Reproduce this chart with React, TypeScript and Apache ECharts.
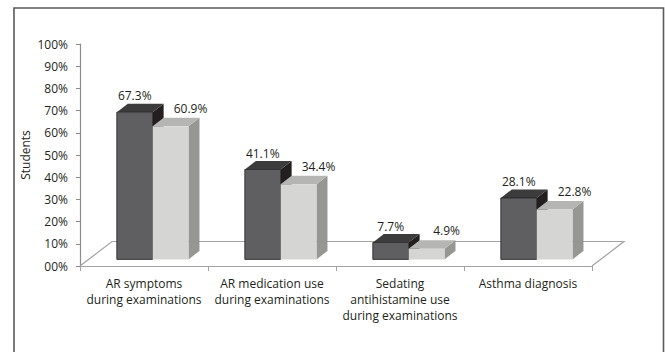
import React, { useEffect, useRef } from "react";
import * as echarts from "echarts";

const categories = [
  "AR symptoms\nduring examinations",
  "AR medication use\nduring examinations",
  "Sedating\nantihistamine use\nduring examinations",
  "Asthma diagnosis",
];
const darkValues = [67.3, 41.1, 7.7, 28.1];
const lightValues = [60.9, 34.4, 4.9, 22.8];
const yMin = 0;
const yMax = 100;
const yStep = 10;

const FONT = '"Open Sans", "Noto Sans", sans-serif';
const TEXT = "#231f20";

// 3D projection style
const FLOOR_DX = 32;
const FLOOR_DY = 24.5;
const D_FRONT = 0.27;
const BAR_DX = 11;
const BAR_DY = 8.5;
const BAR_FRAC = 0.28;
const PERSP = 0.985;

const DARK = { front: "#5f5f61", top: "#3c3c3d", side: "#231f20" };
const LIGHT = { front: "#d5d6d4", top: "#b5b6b4", side: "#969795" };

function barShapes(x: number, w: number, yb: number, yt: number, col: any, edge: boolean) {
  const els: any[] = [];
  els.push({
    type: "polygon",
    shape: { points: [[x + w, yb], [x + w + BAR_DX, yb - BAR_DY], [x + w + BAR_DX, yt - BAR_DY], [x + w, yt]] },
    style: { fill: col.side },
  });
  els.push({
    type: "polygon",
    shape: { points: [[x, yt], [x + BAR_DX, yt - BAR_DY], [x + w + BAR_DX, yt - BAR_DY], [x + w, yt]] },
    style: { fill: col.top },
  });
  els.push({
    type: "rect",
    shape: { x, y: yt, width: w, height: yb - yt },
    style: edge ? { fill: col.front, stroke: "#231f20", lineWidth: 0.8 } : { fill: col.front },
  });
  return els;
}

export default function App() {
  const ref = useRef<HTMLDivElement>(null);
  useEffect(() => {
    if (!ref.current) return;
    const chart = echarts.init(ref.current, null, { renderer: "svg" });
    const barData = categories.map((_, i) => [i, darkValues[i], lightValues[i]]);
    const option: any = {
      animation: false,
      backgroundColor: "#ffffff",
      graphic: [
        {
          type: "rect",
          shape: { x: 14, y: 8, width: 649.5, height: 400 },
          style: { fill: "none", stroke: "#5a5a5a", lineWidth: 1.6 },
          z: 0,
        },
      ],
      grid: { left: 80, right: 73, top: 44, bottom: 86 },
      xAxis: {
        type: "category",
        data: categories,
        axisLine: { show: true, lineStyle: { color: "#a3a3a3", width: 1.2 } },
        axisTick: { show: true, length: 5, lineStyle: { color: "#a3a3a3" } },
        axisLabel: {
          color: TEXT,
          fontFamily: FONT,
          fontSize: 12,
          lineHeight: 16,
          margin: 9,
          interval: 0,
        },
      },
      yAxis: {
        type: "value",
        min: yMin,
        max: yMax,
        interval: yStep,
        name: "Students",
        nameLocation: "middle",
        nameRotate: 90,
        nameGap: 49,
        nameMoveOverlap: false,
        nameTextStyle: { color: TEXT, fontFamily: FONT, fontSize: 12 },
        axisLine: { show: true, lineStyle: { color: "#8c8c8c", width: 1.2 } },
        axisTick: { show: true, length: 4, lineStyle: { color: "#8c8c8c" } },
        splitLine: { show: false },
        axisLabel: {
          color: TEXT,
          fontFamily: FONT,
          fontSize: 12,
          margin: 12,
          formatter: (v: number) => (v === 0 ? "00%" : v + "%"),
        },
      },
      series: [
        {
          type: "custom",
          z: 1,
          data: [[0, 0]],
          silent: true,
          renderItem: (params: any, api: any) => {
            const band = api.size([1, 0])[0];
            const p0 = api.coord([0, 0]);
            const p1 = api.coord([categories.length - 1, 0]);
            const x0 = p0[0] - band / 2;
            const x1 = p1[0] + band / 2;
            const y = p0[1];
            return {
              type: "polyline",
              shape: {
                points: [
                  [x0, y],
                  [x0 + FLOOR_DX, y - FLOOR_DY],
                  [x1 + FLOOR_DX, y - FLOOR_DY],
                  [x1, y],
                ],
              },
              style: { fill: "none", stroke: "#a3a3a3", lineWidth: 1.2 },
            };
          },
        },
        {
          type: "custom",
          z: 2,
          data: barData,
          encode: { x: 0, y: [1, 2] },
          renderItem: (params: any, api: any) => {
            const i = api.value(0);
            const a = api.value(1);
            const b = api.value(2);
            const band = api.size([1, 0])[0];
            const p0 = api.coord([i, 0]);
            const pa = api.coord([i, a]);
            const pb = api.coord([i, b]);
            const w = band * BAR_FRAC;
            const sx = D_FRONT * FLOOR_DX;
            const sy = D_FRONT * FLOOR_DY;
            const yb = p0[1] - sy;
            const ya = yb - (p0[1] - pa[1]) * PERSP;
            const ybb = yb - (p0[1] - pb[1]) * PERSP;
            const xd = p0[0] + sx - w;
            const xl = p0[0] + sx;
            const children: any[] = [];
            children.push(...barShapes(xd, w, yb, ya, DARK, true));
            children.push(...barShapes(xl, w, yb, ybb, LIGHT, false));
            children.push({
              type: "text",
              style: {
                text: a.toFixed(1) + "%",
                x: xd + w / 2,
                y: ya - 16.5,
                align: "center",
                verticalAlign: "middle",
                fill: TEXT,
                font: "12px " + FONT,
              },
            });
            children.push({
              type: "text",
              style: {
                text: b.toFixed(1) + "%",
                x: xl + w / 2 + 20,
                y: ybb - 18,
                align: "center",
                verticalAlign: "middle",
                fill: TEXT,
                font: "12px " + FONT,
              },
            });
            return { type: "group", children };
          },
        },
      ],
    };
    chart.setOption(option);
    return () => chart.dispose();
  }, []);
  return (
    <div
      ref={ref}
      style={{ position: "absolute", left: 0, top: 0, width: 665, height: 352 }}
    />
  );
}
